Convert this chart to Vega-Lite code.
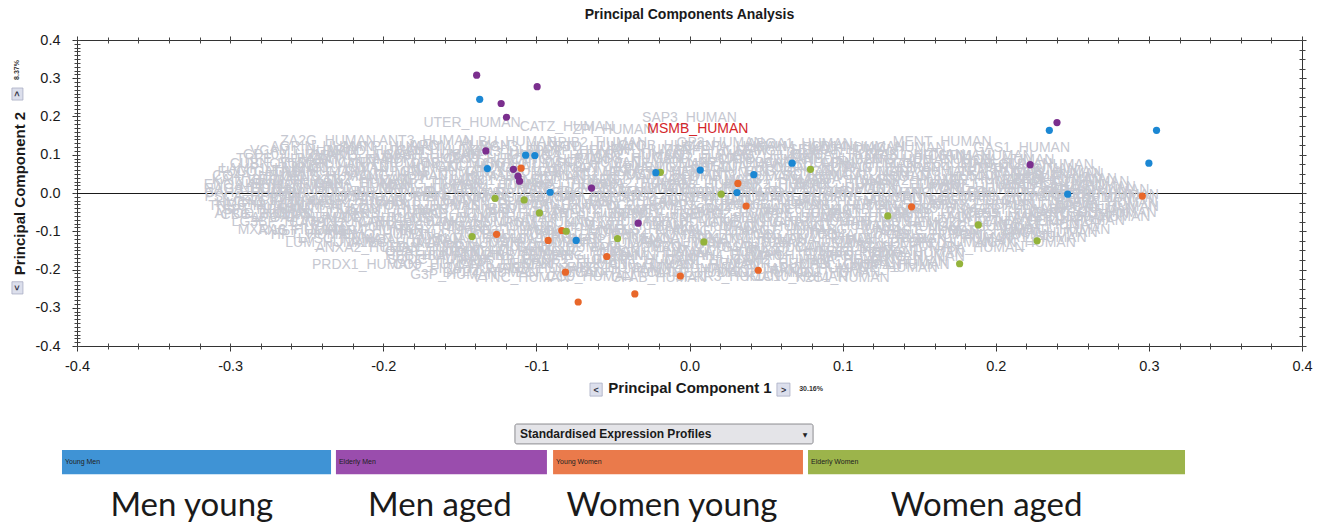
{
 "$schema": "https://vega.github.io/schema/vega-lite/v6.json",
 "width": 1225, "height": 306,
 "autosize": {"type": "none"},
 "padding": {"left": 77, "top": 40, "right": 28, "bottom": 178},
 "background": "white",
 "config": {"view": {"stroke": null}, "axis": {"grid": false}},
 "title": {"text": "Principal Components Analysis", "font": "Liberation Sans", "fontSize": 14, "fontWeight": "bold", "color": "#1a1a1a", "anchor": "middle", "offset": 10},
 "resolve": {"axis": {"x": "independent", "y": "independent"}},
 "layer": [
  {
   "data": {"values": [{"x1": -0.4, "x2": 0.4, "y": 0}]},
   "mark": {"type": "rule", "color": "#1a1a1a", "strokeWidth": 1, "yOffset": 0.5},
   "encoding": {
    "x": {"field": "x1", "type": "quantitative", "scale": {"domain": [-0.4, 0.4], "nice": false, "zero": false},
     "axis": {"orient": "bottom", "values": [-0.4, -0.3, -0.2, -0.1, 0, 0.1, 0.2, 0.3, 0.4], "labelExpr": "replace(format(datum.value, '.1f'), '\u2212', '-')", "labelFlush": false, "labelOverlap": false, "labelFont": "Liberation Sans", "labelFontSize": 14.5, "labelColor": "#1a1a1a", "labelPadding": 8, "tickSize": 5, "tickColor": "#333", "domain": true, "domainColor": "#333", "title": "Principal Component 1", "titleFont": "Liberation Sans", "titleFontSize": 15, "titleFontWeight": "bold", "titleColor": "#1a1a1a", "titlePadding": 8}},
    "x2": {"field": "x2"},
    "y": {"field": "y", "type": "quantitative", "scale": {"domain": [-0.4, 0.4], "nice": false, "zero": false},
     "axis": {"orient": "left", "values": [-0.4, -0.3, -0.2, -0.1, 0, 0.1, 0.2, 0.3, 0.4], "labelExpr": "replace(format(datum.value, '.1f'), '\u2212', '-')", "labelFlush": false, "labelOverlap": false, "labelFont": "Liberation Sans", "labelFontSize": 14.5, "labelColor": "#1a1a1a", "labelPadding": 12, "tickSize": 5, "tickColor": "#333", "domain": true, "domainColor": "#333", "title": "Principal Component 2", "titleFont": "Liberation Sans", "titleFontSize": 15, "titleFontWeight": "bold", "titleColor": "#1a1a1a", "titlePadding": 8}}
   }
  },
  {
   "data": {"values": [
    {"x": -0.24, "y": 0.121, "t": "AGRIN_HUMAN"}, {"x": -0.195, "y": 0.121, "t": "AMYP_HUMAN"}, {"x": -0.15, "y": 0.122, "t": "APOM_HUMAN"}, {"x": -0.105, "y": 0.12, "t": "BGH3_HUMAN"}, {"x": -0.06, "y": 0.121, "t": "BTD_HUMAN"}, {"x": -0.015, "y": 0.122, "t": "C1QB_HUMAN"}, {"x": 0.03, "y": 0.12, "t": "C4BPA_HUMAN"}, {"x": 0.075, "y": 0.121, "t": "CALM_HUMAN"}, {"x": 0.11, "y": 0.12, "t": "CD14_HUMAN"},
    {"x": -0.258, "y": 0.099, "t": "CD109_HUMAN"}, {"x": -0.213, "y": 0.098, "t": "CEAM5_HUMAN"}, {"x": -0.168, "y": 0.1, "t": "CFAH_HUMAN"}, {"x": -0.123, "y": 0.099, "t": "CHIT1_HUMAN"}, {"x": -0.078, "y": 0.098, "t": "CMGA_HUMAN"}, {"x": -0.033, "y": 0.1, "t": "CO2_HUMAN"}, {"x": 0.012, "y": 0.099, "t": "CO5_HUMAN"}, {"x": 0.057, "y": 0.098, "t": "CO7_HUMAN"}, {"x": 0.102, "y": 0.1, "t": "COCA1_HUMAN"}, {"x": 0.147, "y": 0.099, "t": "CRIS1_HUMAN"}, {"x": 0.19, "y": 0.098, "t": "CSTN1_HUMAN"},
    {"x": -0.268, "y": 0.077, "t": "CUBN_HUMAN"}, {"x": -0.243, "y": 0.076, "t": "CYTB_HUMAN"}, {"x": -0.198, "y": 0.078, "t": "CYTN_HUMAN"}, {"x": -0.153, "y": 0.077, "t": "DCD_HUMAN"}, {"x": -0.108, "y": 0.076, "t": "DSG1_HUMAN"}, {"x": -0.063, "y": 0.078, "t": "DSC3_HUMAN"}, {"x": -0.018, "y": 0.077, "t": "ELNE_HUMAN"}, {"x": 0.027, "y": 0.076, "t": "ENPP3_HUMAN"}, {"x": 0.072, "y": 0.078, "t": "EPCAM_HUMAN"}, {"x": 0.117, "y": 0.077, "t": "FBN1_HUMAN"}, {"x": 0.162, "y": 0.076, "t": "FCGBP_HUMAN"}, {"x": 0.207, "y": 0.077, "t": "FINC_HUMAN"}, {"x": 0.23, "y": 0.074, "t": "FOLR1_HUMAN"},
    {"x": -0.276, "y": 0.055, "t": "FUCO_HUMAN"}, {"x": -0.25, "y": 0.054, "t": "GALNS_HUMAN"}, {"x": -0.205, "y": 0.056, "t": "GLCM_HUMAN"}, {"x": -0.16, "y": 0.055, "t": "GNS_HUMAN"}, {"x": -0.115, "y": 0.054, "t": "GPX3_HUMAN"}, {"x": -0.07, "y": 0.056, "t": "GRN_HUMAN"}, {"x": -0.025, "y": 0.055, "t": "HEXA_HUMAN"}, {"x": 0.02, "y": 0.054, "t": "HEXB_HUMAN"}, {"x": 0.065, "y": 0.056, "t": "HRG_HUMAN"}, {"x": 0.11, "y": 0.055, "t": "ICAM1_HUMAN"}, {"x": 0.155, "y": 0.054, "t": "IGF2_HUMAN"}, {"x": 0.2, "y": 0.056, "t": "IL1RA_HUMAN"}, {"x": 0.24, "y": 0.05, "t": "ITIH2_HUMAN"},
    {"x": -0.282, "y": 0.033, "t": "KAIN_HUMAN"}, {"x": -0.258, "y": 0.032, "t": "KLK1_HUMAN"}, {"x": -0.213, "y": 0.034, "t": "KLK2_HUMAN"}, {"x": -0.168, "y": 0.033, "t": "LAMB1_HUMAN"}, {"x": -0.123, "y": 0.032, "t": "LAMC1_HUMAN"}, {"x": -0.078, "y": 0.034, "t": "LEG1_HUMAN"}, {"x": -0.033, "y": 0.033, "t": "LRG1_HUMAN"}, {"x": 0.012, "y": 0.032, "t": "LYAM1_HUMAN"}, {"x": 0.057, "y": 0.034, "t": "MA2B1_HUMAN"}, {"x": 0.102, "y": 0.033, "t": "MANBA_HUMAN"}, {"x": 0.147, "y": 0.032, "t": "MASP2_HUMAN"}, {"x": 0.192, "y": 0.034, "t": "MIF_HUMAN"}, {"x": 0.237, "y": 0.033, "t": "MMP9_HUMAN"}, {"x": 0.255, "y": 0.028, "t": "MUC1_HUMAN"},
    {"x": -0.285, "y": 0.011, "t": "NAGA_HUMAN"}, {"x": -0.262, "y": 0.01, "t": "NEO1_HUMAN"}, {"x": -0.217, "y": 0.012, "t": "NHRF1_HUMAN"}, {"x": -0.172, "y": 0.011, "t": "NRP1_HUMAN"}, {"x": -0.127, "y": 0.01, "t": "OLFM4_HUMAN"}, {"x": -0.082, "y": 0.012, "t": "PAEP_HUMAN"}, {"x": -0.037, "y": 0.011, "t": "PCSK1_HUMAN"}, {"x": 0.008, "y": 0.01, "t": "PDGFB_HUMAN"}, {"x": 0.053, "y": 0.012, "t": "PGS1_HUMAN"}, {"x": 0.098, "y": 0.011, "t": "PLTP_HUMAN"}, {"x": 0.143, "y": 0.01, "t": "PODXL_HUMAN"}, {"x": 0.188, "y": 0.012, "t": "PON1_HUMAN"}, {"x": 0.233, "y": 0.011, "t": "PPBP_HUMAN"}, {"x": 0.268, "y": 0.008, "t": "PROS_HUMAN"},
    {"x": -0.285, "y": -0.011, "t": "PSCA_HUMAN"}, {"x": -0.24, "y": -0.012, "t": "PTPRS_HUMAN"}, {"x": -0.195, "y": -0.01, "t": "QSOX1_HUMAN"}, {"x": -0.15, "y": -0.011, "t": "RET4_HUMAN"}, {"x": -0.105, "y": -0.012, "t": "RNAS2_HUMAN"}, {"x": -0.06, "y": -0.01, "t": "SAP_HUMAN"}, {"x": -0.015, "y": -0.011, "t": "SCG2_HUMAN"}, {"x": 0.03, "y": -0.012, "t": "SEM4D_HUMAN"}, {"x": 0.075, "y": -0.01, "t": "SLIT2_HUMAN"}, {"x": 0.12, "y": -0.011, "t": "SPRC_HUMAN"}, {"x": 0.165, "y": -0.012, "t": "SRGN_HUMAN"}, {"x": 0.21, "y": -0.01, "t": "TFF3_HUMAN"}, {"x": 0.255, "y": -0.011, "t": "TGFB1_HUMAN"}, {"x": 0.272, "y": -0.014, "t": "THRB_HUMAN"},
    {"x": -0.283, "y": -0.033, "t": "TNR6_HUMAN"}, {"x": -0.258, "y": -0.034, "t": "TRY1_HUMAN"}, {"x": -0.213, "y": -0.032, "t": "TSP4_HUMAN"}, {"x": -0.168, "y": -0.033, "t": "UPAR_HUMAN"}, {"x": -0.123, "y": -0.034, "t": "VASN_HUMAN"}, {"x": -0.078, "y": -0.032, "t": "VCAN_HUMAN"}, {"x": -0.033, "y": -0.033, "t": "WFDC2_HUMAN"}, {"x": 0.012, "y": -0.034, "t": "XPP2_HUMAN"}, {"x": 0.057, "y": -0.032, "t": "ZG16B_HUMAN"}, {"x": 0.102, "y": -0.033, "t": "PLXB2_HUMAN"}, {"x": 0.147, "y": -0.034, "t": "TGM4_HUMAN"}, {"x": 0.192, "y": -0.032, "t": "NPTX2_HUMAN"}, {"x": 0.237, "y": -0.033, "t": "ALBU_HUMAN"}, {"x": 0.272, "y": -0.036, "t": "APOA1_HUMAN"},
    {"x": -0.278, "y": -0.055, "t": "APOD_HUMAN"}, {"x": -0.24, "y": -0.056, "t": "CLUS_HUMAN"}, {"x": -0.195, "y": -0.054, "t": "KLK3_HUMAN"}, {"x": -0.15, "y": -0.055, "t": "PPAP_HUMAN"}, {"x": -0.105, "y": -0.056, "t": "PIP_HUMAN"}, {"x": -0.06, "y": -0.054, "t": "TRFL_HUMAN"}, {"x": -0.015, "y": -0.055, "t": "SEMG1_HUMAN"}, {"x": 0.03, "y": -0.056, "t": "SEMG2_HUMAN"}, {"x": 0.075, "y": -0.054, "t": "TRFE_HUMAN"}, {"x": 0.12, "y": -0.055, "t": "A1AT_HUMAN"}, {"x": 0.165, "y": -0.056, "t": "AMBP_HUMAN"}, {"x": 0.21, "y": -0.054, "t": "CD59_HUMAN"}, {"x": 0.255, "y": -0.055, "t": "CYTC_HUMAN"}, {"x": 0.27, "y": -0.052, "t": "PTGDS_HUMAN"},
    {"x": -0.265, "y": -0.077, "t": "LG3BP_HUMAN"}, {"x": -0.23, "y": -0.078, "t": "CATD_HUMAN"}, {"x": -0.185, "y": -0.076, "t": "CATB_HUMAN"}, {"x": -0.14, "y": -0.077, "t": "B2MG_HUMAN"}, {"x": -0.095, "y": -0.078, "t": "UROM_HUMAN"}, {"x": -0.05, "y": -0.076, "t": "KNG1_HUMAN"}, {"x": -0.005, "y": -0.077, "t": "VTDB_HUMAN"}, {"x": 0.04, "y": -0.078, "t": "IGKC_HUMAN"}, {"x": 0.085, "y": -0.076, "t": "IGHA1_HUMAN"}, {"x": 0.13, "y": -0.077, "t": "HPT_HUMAN"}, {"x": 0.175, "y": -0.078, "t": "HEMO_HUMAN"}, {"x": 0.22, "y": -0.076, "t": "FETUA_HUMAN"}, {"x": 0.252, "y": -0.074, "t": "CERU_HUMAN"},
    {"x": -0.25, "y": -0.099, "t": "ANGT_HUMAN"}, {"x": -0.205, "y": -0.1, "t": "RBP4_HUMAN"}, {"x": -0.16, "y": -0.098, "t": "TTHY_HUMAN"}, {"x": -0.115, "y": -0.099, "t": "CO3_HUMAN"}, {"x": -0.07, "y": -0.1, "t": "CO4A_HUMAN"}, {"x": -0.025, "y": -0.098, "t": "GELS_HUMAN"}, {"x": 0.02, "y": -0.099, "t": "A2MG_HUMAN"}, {"x": 0.065, "y": -0.1, "t": "AACT_HUMAN"}, {"x": 0.11, "y": -0.098, "t": "A1BG_HUMAN"}, {"x": 0.155, "y": -0.099, "t": "A1AG1_HUMAN"}, {"x": 0.2, "y": -0.1, "t": "OSTP_HUMAN"}, {"x": 0.24, "y": -0.096, "t": "DMBT1_HUMAN"},
    {"x": -0.225, "y": -0.121, "t": "LYSC_HUMAN"}, {"x": -0.18, "y": -0.122, "t": "NGAL_HUMAN"}, {"x": -0.135, "y": -0.12, "t": "S10A8_HUMAN"}, {"x": -0.09, "y": -0.121, "t": "S10A9_HUMAN"}, {"x": -0.045, "y": -0.122, "t": "PEBP1_HUMAN"}, {"x": 0.0, "y": -0.12, "t": "ENOA_HUMAN"}, {"x": 0.045, "y": -0.121, "t": "KPYM_HUMAN"}, {"x": 0.09, "y": -0.122, "t": "LDHA_HUMAN"}, {"x": 0.135, "y": -0.12, "t": "MDHC_HUMAN"}, {"x": 0.18, "y": -0.121, "t": "PGK1_HUMAN"}, {"x": 0.225, "y": -0.118, "t": "ANXA1_HUMAN"},
    {"x": -0.21, "y": -0.143, "t": "ANXA2_HUMAN"}, {"x": -0.17, "y": -0.144, "t": "LEG3_HUMAN"}, {"x": -0.125, "y": -0.142, "t": "PRDX2_HUMAN"}, {"x": -0.08, "y": -0.143, "t": "SODC_HUMAN"}, {"x": -0.035, "y": -0.144, "t": "PPIA_HUMAN"}, {"x": 0.01, "y": -0.142, "t": "PROF1_HUMAN"}, {"x": 0.055, "y": -0.143, "t": "GSTP1_HUMAN"}, {"x": 0.1, "y": -0.144, "t": "CAH1_HUMAN"}, {"x": 0.145, "y": -0.142, "t": "CAH2_HUMAN"}, {"x": 0.19, "y": -0.143, "t": "HBA_HUMAN"},
    {"x": -0.17, "y": -0.165, "t": "HBB_HUMAN"}, {"x": -0.15, "y": -0.166, "t": "FIBA_HUMAN"}, {"x": -0.105, "y": -0.164, "t": "FIBB_HUMAN"}, {"x": -0.06, "y": -0.165, "t": "FIBG_HUMAN"}, {"x": -0.015, "y": -0.166, "t": "PLMN_HUMAN"}, {"x": 0.03, "y": -0.164, "t": "ITIH4_HUMAN"}, {"x": 0.075, "y": -0.165, "t": "APOH_HUMAN"}, {"x": 0.12, "y": -0.166, "t": "APOE_HUMAN"}, {"x": 0.148, "y": -0.168, "t": "VTNC_HUMAN"},
    {"x": -0.165, "y": -0.187, "t": "CO9_HUMAN"}, {"x": -0.12, "y": -0.188, "t": "CFAB_HUMAN"}, {"x": -0.075, "y": -0.186, "t": "SPRR3_HUMAN"}, {"x": -0.03, "y": -0.187, "t": "K1C10_HUMAN"}, {"x": 0.015, "y": -0.188, "t": "K2C1_HUMAN"}, {"x": 0.06, "y": -0.186, "t": "CALR_HUMAN"}, {"x": 0.105, "y": -0.187, "t": "CH3L1_HUMAN"}, {"x": 0.135, "y": -0.189, "t": "CNDP1_HUMAN"},
    {"x": -0.13, "y": -0.209, "t": "DPP4_HUMAN"}, {"x": -0.085, "y": -0.21, "t": "EGF_HUMAN"}, {"x": -0.04, "y": -0.208, "t": "CADH1_HUMAN"}, {"x": 0.005, "y": -0.209, "t": "CATL1_HUMAN"}, {"x": 0.05, "y": -0.21, "t": "DAG1_HUMAN"}, {"x": 0.095, "y": -0.208, "t": "NID1_HUMAN"},
    {"x": -0.236, "y": 0.136, "t": "ZA2G_HUMAN"}, {"x": -0.172, "y": 0.137, "t": "ANT3_HUMAN"}, {"x": -0.118, "y": 0.133, "t": "ALBU_HUMAN"}, {"x": -0.06, "y": 0.131, "t": "BPIB2_HUMAN"}, {"x": 0.02, "y": 0.131, "t": "GP2_HUMAN"}, {"x": 0.072, "y": 0.128, "t": "APOA1_HUMAN"}, {"x": 0.165, "y": 0.133, "t": "MENT_HUMAN"}, {"x": -0.142, "y": 0.183, "t": "UTER_HUMAN"}, {"x": -0.08, "y": 0.172, "t": "CATZ_HUMAN"}, {"x": -0.05, "y": 0.166, "t": "ZPI_HUMAN"}, {"x": 0.0, "y": 0.196, "t": "SAP3_HUMAN"},
    {"x": -0.252, "y": 0.11, "t": "VCAM1_HUMAN"}, {"x": -0.205, "y": 0.109, "t": "APOD_HUMAN"}, {"x": -0.16, "y": 0.111, "t": "CLUS_HUMAN"}, {"x": -0.115, "y": 0.108, "t": "KLK3_HUMAN"}, {"x": -0.07, "y": 0.11, "t": "PPAP_HUMAN"}, {"x": -0.025, "y": 0.112, "t": "PIP_HUMAN"}, {"x": 0.02, "y": 0.109, "t": "TRFL_HUMAN"}, {"x": 0.065, "y": 0.11, "t": "SEMG1_HUMAN"}, {"x": 0.1, "y": 0.112, "t": "SEMG2_HUMAN"}, {"x": 0.137, "y": 0.117, "t": "DIAC_HUMAN"}, {"x": 0.217, "y": 0.117, "t": "GAS1_HUMAN"},
    {"x": -0.265, "y": 0.088, "t": "TRFE_HUMAN"}, {"x": -0.22, "y": 0.087, "t": "A1AT_HUMAN"}, {"x": -0.175, "y": 0.089, "t": "AMBP_HUMAN"}, {"x": -0.13, "y": 0.088, "t": "CD59_HUMAN"}, {"x": -0.085, "y": 0.086, "t": "CYTC_HUMAN"}, {"x": -0.04, "y": 0.088, "t": "PTGDS_HUMAN"}, {"x": 0.005, "y": 0.09, "t": "LG3BP_HUMAN"}, {"x": 0.05, "y": 0.087, "t": "CATD_HUMAN"}, {"x": 0.095, "y": 0.088, "t": "CATB_HUMAN"}, {"x": 0.14, "y": 0.086, "t": "B2MG_HUMAN"}, {"x": 0.168, "y": 0.097, "t": "DAF_HUMAN"}, {"x": 0.205, "y": 0.085, "t": "UROM_HUMAN"},
    {"x": -0.272, "y": 0.062, "t": "LAMP1_HUMAN"}, {"x": -0.228, "y": 0.066, "t": "KNG1_HUMAN"}, {"x": -0.183, "y": 0.065, "t": "VTDB_HUMAN"}, {"x": -0.138, "y": 0.067, "t": "IGKC_HUMAN"}, {"x": -0.093, "y": 0.066, "t": "IGHA1_HUMAN"}, {"x": -0.048, "y": 0.064, "t": "HPT_HUMAN"}, {"x": -0.003, "y": 0.066, "t": "HEMO_HUMAN"}, {"x": 0.042, "y": 0.068, "t": "FETUA_HUMAN"}, {"x": 0.087, "y": 0.066, "t": "CERU_HUMAN"}, {"x": 0.132, "y": 0.065, "t": "ANGT_HUMAN"}, {"x": 0.177, "y": 0.066, "t": "RBP4_HUMAN"}, {"x": 0.222, "y": 0.064, "t": "TTHY_HUMAN"}, {"x": 0.24, "y": 0.055, "t": "CO3_HUMAN"},
    {"x": -0.28, "y": 0.044, "t": "CO4A_HUMAN"}, {"x": -0.235, "y": 0.043, "t": "GELS_HUMAN"}, {"x": -0.19, "y": 0.045, "t": "A2MG_HUMAN"}, {"x": -0.145, "y": 0.044, "t": "AACT_HUMAN"}, {"x": -0.1, "y": 0.042, "t": "A1BG_HUMAN"}, {"x": -0.055, "y": 0.044, "t": "A1AG1_HUMAN"}, {"x": -0.01, "y": 0.046, "t": "OSTP_HUMAN"}, {"x": 0.035, "y": 0.043, "t": "DMBT1_HUMAN"}, {"x": 0.08, "y": 0.044, "t": "LYSC_HUMAN"}, {"x": 0.125, "y": 0.045, "t": "NGAL_HUMAN"}, {"x": 0.17, "y": 0.043, "t": "S10A8_HUMAN"}, {"x": 0.215, "y": 0.044, "t": "S10A9_HUMAN"}, {"x": 0.245, "y": 0.036, "t": "PEBP1_HUMAN"},
    {"x": -0.285, "y": 0.022, "t": "ENOA_HUMAN"}, {"x": -0.258, "y": 0.021, "t": "KPYM_HUMAN"}, {"x": -0.213, "y": 0.023, "t": "LDHA_HUMAN"}, {"x": -0.168, "y": 0.022, "t": "MDHC_HUMAN"}, {"x": -0.123, "y": 0.02, "t": "PGK1_HUMAN"}, {"x": -0.078, "y": 0.022, "t": "ANXA1_HUMAN"}, {"x": -0.033, "y": 0.024, "t": "ANXA2_HUMAN"}, {"x": 0.012, "y": 0.021, "t": "LEG3_HUMAN"}, {"x": 0.057, "y": 0.022, "t": "PRDX2_HUMAN"}, {"x": 0.102, "y": 0.023, "t": "SODC_HUMAN"}, {"x": 0.147, "y": 0.021, "t": "PPIA_HUMAN"}, {"x": 0.192, "y": 0.022, "t": "PROF1_HUMAN"}, {"x": 0.237, "y": 0.02, "t": "GSTP1_HUMAN"}, {"x": 0.26, "y": 0.016, "t": "CAH1_HUMAN"},
    {"x": -0.285, "y": 0.0, "t": "CAH2_HUMAN"}, {"x": -0.24, "y": -0.001, "t": "HBA_HUMAN"}, {"x": -0.195, "y": 0.001, "t": "HBB_HUMAN"}, {"x": -0.15, "y": 0.0, "t": "FIBA_HUMAN"}, {"x": -0.105, "y": -0.002, "t": "FIBB_HUMAN"}, {"x": -0.06, "y": 0.0, "t": "FIBG_HUMAN"}, {"x": -0.015, "y": 0.002, "t": "PLMN_HUMAN"}, {"x": 0.03, "y": -0.001, "t": "ITIH4_HUMAN"}, {"x": 0.075, "y": 0.0, "t": "APOH_HUMAN"}, {"x": 0.12, "y": 0.001, "t": "APOE_HUMAN"}, {"x": 0.165, "y": -0.001, "t": "VTNC_HUMAN"}, {"x": 0.21, "y": 0.0, "t": "CO9_HUMAN"}, {"x": 0.255, "y": 0.002, "t": "CFAB_HUMAN"}, {"x": 0.272, "y": -0.004, "t": "SPRR3_HUMAN"},
    {"x": -0.274, "y": -0.026, "t": "HMCN1_HUMAN"}, {"x": -0.262, "y": -0.021, "t": "K2C1_HUMAN"}, {"x": -0.217, "y": -0.022, "t": "CALR_HUMAN"}, {"x": -0.172, "y": -0.023, "t": "CH3L1_HUMAN"}, {"x": -0.127, "y": -0.021, "t": "CNDP1_HUMAN"}, {"x": -0.082, "y": -0.022, "t": "DPP4_HUMAN"}, {"x": -0.037, "y": -0.024, "t": "EGF_HUMAN"}, {"x": 0.008, "y": -0.021, "t": "CADH1_HUMAN"}, {"x": 0.053, "y": -0.022, "t": "CATL1_HUMAN"}, {"x": 0.098, "y": -0.023, "t": "DAG1_HUMAN"}, {"x": 0.143, "y": -0.021, "t": "NID1_HUMAN"}, {"x": 0.188, "y": -0.022, "t": "PGCB_HUMAN"}, {"x": 0.233, "y": -0.02, "t": "GGH_HUMAN"}, {"x": 0.272, "y": -0.026, "t": "HS90A_HUMAN"},
    {"x": -0.28, "y": -0.044, "t": "TSP1_HUMAN"}, {"x": -0.235, "y": -0.043, "t": "FBLN1_HUMAN"}, {"x": -0.19, "y": -0.045, "t": "ECM1_HUMAN"}, {"x": -0.145, "y": -0.044, "t": "NPC2_HUMAN"}, {"x": -0.1, "y": -0.042, "t": "PEDF_HUMAN"}, {"x": -0.055, "y": -0.044, "t": "SPON2_HUMAN"}, {"x": -0.01, "y": -0.046, "t": "TIMP1_HUMAN"}, {"x": 0.035, "y": -0.043, "t": "CD44_HUMAN"}, {"x": 0.08, "y": -0.044, "t": "MUC6_HUMAN"}, {"x": 0.125, "y": -0.045, "t": "ACTB_HUMAN"}, {"x": 0.17, "y": -0.043, "t": "TBB5_HUMAN"}, {"x": 0.215, "y": -0.044, "t": "EZRI_HUMAN"}, {"x": 0.26, "y": -0.042, "t": "ALBU_HUMAN"},
    {"x": -0.277, "y": -0.057, "t": "CBG_HUMAN"}, {"x": -0.252, "y": -0.066, "t": "APOA1_HUMAN"}, {"x": -0.207, "y": -0.065, "t": "APOD_HUMAN"}, {"x": -0.162, "y": -0.067, "t": "CLUS_HUMAN"}, {"x": -0.117, "y": -0.066, "t": "KLK3_HUMAN"}, {"x": -0.072, "y": -0.064, "t": "PPAP_HUMAN"}, {"x": -0.027, "y": -0.066, "t": "PIP_HUMAN"}, {"x": 0.018, "y": -0.068, "t": "TRFL_HUMAN"}, {"x": 0.063, "y": -0.066, "t": "SEMG1_HUMAN"}, {"x": 0.108, "y": -0.065, "t": "SEMG2_HUMAN"}, {"x": 0.153, "y": -0.066, "t": "TRFE_HUMAN"}, {"x": 0.198, "y": -0.064, "t": "A1AT_HUMAN"}, {"x": 0.243, "y": -0.066, "t": "AMBP_HUMAN"}, {"x": 0.27, "y": -0.062, "t": "CD59_HUMAN"},
    {"x": -0.26, "y": -0.097, "t": "MXRA8_HUMAN"}, {"x": -0.215, "y": -0.088, "t": "CYTC_HUMAN"}, {"x": -0.17, "y": -0.087, "t": "PTGDS_HUMAN"}, {"x": -0.125, "y": -0.089, "t": "LG3BP_HUMAN"}, {"x": -0.08, "y": -0.088, "t": "CATD_HUMAN"}, {"x": -0.035, "y": -0.086, "t": "CATB_HUMAN"}, {"x": 0.01, "y": -0.088, "t": "B2MG_HUMAN"}, {"x": 0.055, "y": -0.09, "t": "UROM_HUMAN"}, {"x": 0.1, "y": -0.087, "t": "KNG1_HUMAN"}, {"x": 0.145, "y": -0.088, "t": "VTDB_HUMAN"}, {"x": 0.19, "y": -0.089, "t": "IGKC_HUMAN"}, {"x": 0.235, "y": -0.084, "t": "IGHA1_HUMAN"},
    {"x": -0.245, "y": -0.11, "t": "HPT_HUMAN"}, {"x": -0.2, "y": -0.109, "t": "HEMO_HUMAN"}, {"x": -0.155, "y": -0.111, "t": "FETUA_HUMAN"}, {"x": -0.11, "y": -0.11, "t": "CERU_HUMAN"}, {"x": -0.065, "y": -0.108, "t": "ANGT_HUMAN"}, {"x": -0.02, "y": -0.11, "t": "RBP4_HUMAN"}, {"x": 0.025, "y": -0.112, "t": "TTHY_HUMAN"}, {"x": 0.07, "y": -0.109, "t": "CO3_HUMAN"}, {"x": 0.115, "y": -0.11, "t": "CO4A_HUMAN"}, {"x": 0.16, "y": -0.111, "t": "GELS_HUMAN"}, {"x": 0.205, "y": -0.109, "t": "A2MG_HUMAN"}, {"x": 0.235, "y": -0.105, "t": "AACT_HUMAN"},
    {"x": -0.235, "y": -0.131, "t": "LUM_HUMAN"}, {"x": -0.19, "y": -0.132, "t": "A1BG_HUMAN"}, {"x": -0.145, "y": -0.133, "t": "A1AG1_HUMAN"}, {"x": -0.1, "y": -0.131, "t": "OSTP_HUMAN"}, {"x": -0.055, "y": -0.132, "t": "DMBT1_HUMAN"}, {"x": -0.01, "y": -0.134, "t": "LYSC_HUMAN"}, {"x": 0.035, "y": -0.131, "t": "NGAL_HUMAN"}, {"x": 0.08, "y": -0.132, "t": "S10A8_HUMAN"}, {"x": 0.125, "y": -0.133, "t": "S10A9_HUMAN"}, {"x": 0.165, "y": -0.131, "t": "PEBP1_HUMAN"}, {"x": 0.22, "y": -0.13, "t": "NCAN_HUMAN"},
    {"x": -0.168, "y": -0.154, "t": "OPAT_HUMAN"}, {"x": -0.13, "y": -0.155, "t": "KPYM_HUMAN"}, {"x": -0.11, "y": -0.153, "t": "LDHA_HUMAN"}, {"x": -0.065, "y": -0.154, "t": "MDHC_HUMAN"}, {"x": -0.02, "y": -0.156, "t": "PGK1_HUMAN"}, {"x": 0.025, "y": -0.154, "t": "ANXA1_HUMAN"}, {"x": 0.07, "y": -0.153, "t": "ANXA2_HUMAN"}, {"x": 0.115, "y": -0.155, "t": "LEG3_HUMAN"}, {"x": 0.145, "y": -0.158, "t": "PRDX2_HUMAN"},
    {"x": -0.212, "y": -0.188, "t": "PRDX1_HUMAN"}, {"x": -0.165, "y": -0.176, "t": "SODC_HUMAN"}, {"x": -0.12, "y": -0.177, "t": "PPIA_HUMAN"}, {"x": -0.075, "y": -0.175, "t": "PROF1_HUMAN"}, {"x": -0.03, "y": -0.176, "t": "GSTP1_HUMAN"}, {"x": 0.015, "y": -0.178, "t": "CAH1_HUMAN"}, {"x": 0.06, "y": -0.176, "t": "CAH2_HUMAN"}, {"x": 0.105, "y": -0.175, "t": "HBA_HUMAN"}, {"x": 0.14, "y": -0.18, "t": "HBB_HUMAN"},
    {"x": -0.14, "y": -0.198, "t": "FIBA_HUMAN"}, {"x": -0.095, "y": -0.199, "t": "FIBB_HUMAN"}, {"x": -0.05, "y": -0.197, "t": "FIBG_HUMAN"}, {"x": -0.005, "y": -0.198, "t": "PLMN_HUMAN"}, {"x": 0.04, "y": -0.2, "t": "ITIH4_HUMAN"}, {"x": 0.085, "y": -0.198, "t": "APOH_HUMAN"}, {"x": 0.13, "y": -0.196, "t": "APOE_HUMAN"},
    {"x": -0.154, "y": -0.215, "t": "G3P_HUMAN"}, {"x": -0.11, "y": -0.221, "t": "VTNC_HUMAN"}, {"x": -0.065, "y": -0.22, "t": "CO9_HUMAN"}, {"x": -0.02, "y": -0.222, "t": "CFAB_HUMAN"}, {"x": 0.025, "y": -0.22, "t": "SPRR3_HUMAN"}, {"x": 0.07, "y": -0.219, "t": "K1C10_HUMAN"}, {"x": 0.1, "y": -0.221, "t": "K2C1_HUMAN"}
   ]},
   "mark": {"type": "text", "font": "Liberation Sans", "fontSize": 14, "color": "#c6c8d1", "align": "center", "baseline": "middle"},
   "encoding": {
    "x": {"field": "x", "type": "quantitative", "scale": {"domain": [-0.4, 0.4], "nice": false, "zero": false},
     "axis": {"orient": "bottom", "values": [-0.4, -0.38, -0.36, -0.34, -0.32, -0.3, -0.28, -0.26, -0.24, -0.22, -0.2, -0.18, -0.16, -0.14, -0.12, -0.1, -0.08, -0.06, -0.04, -0.02, 0, 0.02, 0.04, 0.06, 0.08, 0.1, 0.12, 0.14, 0.16, 0.18, 0.2, 0.22, 0.24, 0.26, 0.28, 0.3, 0.32, 0.34, 0.36, 0.38, 0.4], "labels": false, "domain": false, "tickSize": 6, "offset": -3, "tickColor": "#444", "title": null}},
    "y": {"field": "y", "type": "quantitative", "scale": {"domain": [-0.4, 0.4], "nice": false, "zero": false},
     "axis": {"orient": "left", "values": [-0.4, -0.39, -0.38, -0.37, -0.36, -0.35, -0.34, -0.33, -0.32, -0.31, -0.3, -0.29, -0.28, -0.27, -0.26, -0.25, -0.24, -0.23, -0.22, -0.21, -0.2, -0.19, -0.18, -0.17, -0.16, -0.15, -0.14, -0.13, -0.12, -0.11, -0.1, -0.09, -0.08, -0.07, -0.06, -0.05, -0.04, -0.03, -0.02, -0.01, 0, 0.01, 0.02, 0.03, 0.04, 0.05, 0.06, 0.07, 0.08, 0.09, 0.1, 0.11, 0.12, 0.13, 0.14, 0.15, 0.16, 0.17, 0.18, 0.19, 0.2, 0.21, 0.22, 0.23, 0.24, 0.25, 0.26, 0.27, 0.28, 0.29, 0.3, 0.31, 0.32, 0.33, 0.34, 0.35, 0.36, 0.37, 0.38, 0.39, 0.4], "labels": false, "domain": false, "tickSize": 6, "offset": -3, "tickColor": "#444", "title": null}},
    "text": {"field": "t"}
   }
  },
  {
   "data": {"values": [{"x": 0.0055, "y": 0.167, "t": "MSMB_HUMAN"}]},
   "mark": {"type": "text", "font": "Liberation Sans", "fontSize": 14, "color": "#d3262b", "align": "center", "baseline": "middle"},
   "encoding": {
    "x": {"field": "x", "type": "quantitative", "scale": {"domain": [-0.4, 0.4], "nice": false, "zero": false},
     "axis": {"orient": "top", "values": [-0.4, -0.3, -0.2, -0.1, 0, 0.1, 0.2, 0.3, 0.4], "labels": false, "domain": true, "domainColor": "#333", "tickSize": 4, "tickColor": "#333", "title": null}},
    "y": {"field": "y", "type": "quantitative", "scale": {"domain": [-0.4, 0.4], "nice": false, "zero": false},
     "axis": {"orient": "right", "values": [-0.4, -0.3, -0.2, -0.1, 0, 0.1, 0.2, 0.3, 0.4], "labels": false, "domain": true, "domainColor": "#333", "tickSize": 4, "tickColor": "#333", "title": null}},
    "text": {"field": "t"}
   }
  },
  {
   "data": {"values": [
    {"g": "Young Women", "x": -0.11, "y": 0.065}, {"g": "Young Women", "x": 0.0316, "y": 0.025}, {"g": "Young Women", "x": 0.037, "y": -0.034}, {"g": "Young Women", "x": -0.126, "y": -0.108}, {"g": "Young Women", "x": -0.0834, "y": -0.098}, {"g": "Young Women", "x": -0.0923, "y": -0.124}, {"g": "Young Women", "x": -0.054, "y": -0.166}, {"g": "Young Women", "x": -0.081, "y": -0.207}, {"g": "Young Women", "x": -0.006, "y": -0.217}, {"g": "Young Women", "x": 0.0449, "y": -0.202}, {"g": "Young Women", "x": -0.0357, "y": -0.264}, {"g": "Young Women", "x": -0.0727, "y": -0.285}, {"g": "Young Women", "x": 0.2957, "y": -0.008}, {"g": "Young Women", "x": 0.145, "y": -0.036},
    {"g": "Elderly Women", "x": -0.019, "y": 0.054}, {"g": "Elderly Women", "x": 0.079, "y": 0.062}, {"g": "Elderly Women", "x": 0.0207, "y": -0.003}, {"g": "Elderly Women", "x": -0.127, "y": -0.014}, {"g": "Elderly Women", "x": -0.108, "y": -0.018}, {"g": "Elderly Women", "x": -0.098, "y": -0.052}, {"g": "Elderly Women", "x": -0.142, "y": -0.114}, {"g": "Elderly Women", "x": -0.0805, "y": -0.1}, {"g": "Elderly Women", "x": -0.047, "y": -0.119}, {"g": "Elderly Women", "x": 0.0094, "y": -0.128}, {"g": "Elderly Women", "x": 0.1295, "y": -0.06}, {"g": "Elderly Women", "x": 0.1886, "y": -0.0836}, {"g": "Elderly Women", "x": 0.227, "y": -0.125}, {"g": "Elderly Women", "x": 0.1764, "y": -0.185},
    {"g": "Elderly Men", "x": -0.0995, "y": 0.278}, {"g": "Elderly Men", "x": -0.139, "y": 0.308}, {"g": "Elderly Men", "x": -0.123, "y": 0.234}, {"g": "Elderly Men", "x": -0.1195, "y": 0.198}, {"g": "Elderly Men", "x": -0.133, "y": 0.11}, {"g": "Elderly Men", "x": -0.115, "y": 0.062}, {"g": "Elderly Men", "x": -0.112, "y": 0.044}, {"g": "Elderly Men", "x": -0.111, "y": 0.031}, {"g": "Elderly Men", "x": -0.064, "y": 0.013}, {"g": "Elderly Men", "x": -0.0335, "y": -0.079}, {"g": "Elderly Men", "x": 0.24, "y": 0.184}, {"g": "Elderly Men", "x": 0.2225, "y": 0.074},
    {"g": "Young Men", "x": -0.137, "y": 0.245}, {"g": "Young Men", "x": -0.107, "y": 0.099}, {"g": "Young Men", "x": -0.101, "y": 0.098}, {"g": "Young Men", "x": -0.132, "y": 0.064}, {"g": "Young Men", "x": -0.091, "y": 0.002}, {"g": "Young Men", "x": -0.022, "y": 0.053}, {"g": "Young Men", "x": 0.007, "y": 0.06}, {"g": "Young Men", "x": 0.042, "y": 0.048}, {"g": "Young Men", "x": 0.067, "y": 0.078}, {"g": "Young Men", "x": 0.031, "y": 0.001}, {"g": "Young Men", "x": -0.074, "y": -0.124}, {"g": "Young Men", "x": 0.235, "y": 0.164}, {"g": "Young Men", "x": 0.305, "y": 0.164}, {"g": "Young Men", "x": 0.3, "y": 0.078}, {"g": "Young Men", "x": 0.247, "y": -0.003}
   ]},
   "mark": {"type": "circle", "size": 52, "opacity": 1},
   "encoding": {
    "x": {"field": "x", "type": "quantitative", "scale": {"domain": [-0.4, 0.4], "nice": false, "zero": false},
     "axis": {"orient": "top", "values": [-0.4, -0.38, -0.36, -0.34, -0.32, -0.3, -0.28, -0.26, -0.24, -0.22, -0.2, -0.18, -0.16, -0.14, -0.12, -0.1, -0.08, -0.06, -0.04, -0.02, 0, 0.02, 0.04, 0.06, 0.08, 0.1, 0.12, 0.14, 0.16, 0.18, 0.2, 0.22, 0.24, 0.26, 0.28, 0.3, 0.32, 0.34, 0.36, 0.38, 0.4], "labels": false, "domain": false, "tickSize": 6, "offset": -3, "tickColor": "#444", "title": null}},
    "y": {"field": "y", "type": "quantitative", "scale": {"domain": [-0.4, 0.4], "nice": false, "zero": false},
     "axis": {"orient": "right", "values": [-0.4, -0.375, -0.35, -0.325, -0.3, -0.275, -0.25, -0.225, -0.2, -0.175, -0.15, -0.125, -0.1, -0.075, -0.05, -0.025, 0, 0.025, 0.05, 0.075, 0.1, 0.125, 0.15, 0.175, 0.2, 0.225, 0.25, 0.275, 0.3, 0.325, 0.35, 0.375, 0.4], "labels": false, "domain": false, "tickSize": 6, "offset": -3, "tickColor": "#444", "title": null}},
    "color": {"field": "g", "type": "nominal", "scale": {"domain": ["Young Men", "Elderly Men", "Young Women", "Elderly Women"], "range": ["#1b87d3", "#7b2f8e", "#e8672a", "#94b33b"]}, "legend": null}
   }
  },
  {
   "data": {"values": [{"g": "Young Men", "a": -0.4098, "b": -0.2341}, {"g": "Elderly Men", "a": -0.2309, "b": -0.0931}, {"g": "Young Women", "a": -0.0891, "b": 0.0741}, {"g": "Elderly Women", "a": 0.0774, "b": 0.3236}]},
   "layer": [
    {
     "mark": {"type": "rect"},
     "encoding": {
      "x": {"field": "a", "type": "quantitative", "scale": {"domain": [-0.4, 0.4], "nice": false, "zero": false}, "axis": null},
      "x2": {"field": "b"},
      "y": {"datum": -0.672, "type": "quantitative", "scale": {"domain": [-0.4, 0.4], "nice": false, "zero": false}, "axis": null},
      "y2": {"datum": -0.735},
      "fill": {"field": "g", "type": "nominal", "scale": {"domain": ["Young Men", "Elderly Men", "Young Women", "Elderly Women"], "range": ["#3f93d5", "#9a4dad", "#ea7a4b", "#9cb44b"]}, "legend": null}
     }
    },
    {
     "mark": {"type": "text", "align": "left", "baseline": "middle", "dx": 3, "font": "Liberation Sans", "fontSize": 7, "color": "#222"},
     "encoding": {
      "x": {"field": "a", "type": "quantitative", "scale": {"domain": [-0.4, 0.4], "nice": false, "zero": false}, "axis": null},
      "y": {"datum": -0.703, "type": "quantitative", "scale": {"domain": [-0.4, 0.4], "nice": false, "zero": false}, "axis": null},
      "text": {"field": "g"}
     }
    }
   ]
  },
  {
   "data": {"values": [{"t": "Men young", "x": -0.325}, {"t": "Men aged", "x": -0.163}, {"t": "Women young", "x": -0.0114}, {"t": "Women aged", "x": 0.194}]},
   "mark": {"type": "text", "font": "Lato", "fontSize": 33, "color": "#1a1a1a", "align": "center", "baseline": "alphabetic"},
   "encoding": {
    "x": {"field": "x", "type": "quantitative", "scale": {"domain": [-0.4, 0.4], "nice": false, "zero": false}, "axis": null},
    "y": {"datum": -0.845, "type": "quantitative", "scale": {"domain": [-0.4, 0.4], "nice": false, "zero": false}, "axis": null},
    "text": {"field": "t"}
   }
  },
  {
   "data": {"values": [{"label": "Standardised Expression Profiles", "arrow": "\u25bc"}]},
   "layer": [
    {
     "mark": {"type": "rect", "fill": "#e4e4e8", "stroke": "#8c8c90", "strokeWidth": 1, "cornerRadius": 2},
     "encoding": {
      "x": {"datum": -0.114, "type": "quantitative", "scale": {"domain": [-0.4, 0.4], "nice": false, "zero": false}, "axis": null},
      "x2": {"datum": 0.0807},
      "y": {"datum": -0.604, "type": "quantitative", "scale": {"domain": [-0.4, 0.4], "nice": false, "zero": false}, "axis": null},
      "y2": {"datum": -0.656}
     }
    },
    {
     "mark": {"type": "text", "align": "left", "baseline": "middle", "font": "Liberation Sans", "fontSize": 12, "fontWeight": "bold", "color": "#1a1a1a"},
     "encoding": {
      "x": {"datum": -0.1107, "type": "quantitative", "scale": {"domain": [-0.4, 0.4], "nice": false, "zero": false}, "axis": null},
      "y": {"datum": -0.63, "type": "quantitative", "scale": {"domain": [-0.4, 0.4], "nice": false, "zero": false}, "axis": null},
      "text": {"field": "label"}
     }
    },
    {
     "mark": {"type": "text", "align": "center", "baseline": "middle", "font": "DejaVu Sans", "fontSize": 6, "color": "#222"},
     "encoding": {
      "x": {"datum": 0.0754, "type": "quantitative", "scale": {"domain": [-0.4, 0.4], "nice": false, "zero": false}, "axis": null},
      "y": {"datum": -0.632, "type": "quantitative", "scale": {"domain": [-0.4, 0.4], "nice": false, "zero": false}, "axis": null},
      "text": {"field": "arrow"}
     }
    }
   ]
  },
  {
   "data": {"values": [{"a": -0.065, "b": -0.057, "c": -0.061, "s": "<"}, {"a": 0.0571, "b": 0.0656, "c": 0.0614, "s": ">"}]},
   "layer": [
    {
     "mark": {"type": "rect", "fill": "#dcdfec", "stroke": "#a9adc4", "strokeWidth": 0.8},
     "encoding": {
      "x": {"field": "a", "type": "quantitative", "scale": {"domain": [-0.4, 0.4], "nice": false, "zero": false}, "axis": null},
      "x2": {"field": "b"},
      "y": {"datum": -0.497, "type": "quantitative", "scale": {"domain": [-0.4, 0.4], "nice": false, "zero": false}, "axis": null},
      "y2": {"datum": -0.531}
     }
    },
    {
     "mark": {"type": "text", "align": "center", "baseline": "middle", "font": "Liberation Sans", "fontSize": 9, "fontWeight": "bold", "color": "#334"},
     "encoding": {
      "x": {"field": "c", "type": "quantitative", "scale": {"domain": [-0.4, 0.4], "nice": false, "zero": false}, "axis": null},
      "y": {"datum": -0.514, "type": "quantitative", "scale": {"domain": [-0.4, 0.4], "nice": false, "zero": false}, "axis": null},
      "text": {"field": "s"}
     }
    }
   ]
  },
  {
   "data": {"values": [{"a": 0.2745, "b": 0.243, "c": 0.259, "s": ">"}, {"a": -0.232, "b": -0.264, "c": -0.248, "s": "<"}]},
   "layer": [
    {
     "mark": {"type": "rect", "fill": "#dcdfec", "stroke": "#a9adc4", "strokeWidth": 0.8},
     "encoding": {
      "x": {"datum": -0.4425, "type": "quantitative", "scale": {"domain": [-0.4, 0.4], "nice": false, "zero": false}, "axis": null},
      "x2": {"datum": -0.4353},
      "y": {"field": "a", "type": "quantitative", "scale": {"domain": [-0.4, 0.4], "nice": false, "zero": false}, "axis": null},
      "y2": {"field": "b"}
     }
    },
    {
     "mark": {"type": "text", "align": "center", "baseline": "middle", "angle": 270, "font": "Liberation Sans", "fontSize": 9, "fontWeight": "bold", "color": "#334"},
     "encoding": {
      "x": {"datum": -0.4389, "type": "quantitative", "scale": {"domain": [-0.4, 0.4], "nice": false, "zero": false}, "axis": null},
      "y": {"field": "c", "type": "quantitative", "scale": {"domain": [-0.4, 0.4], "nice": false, "zero": false}, "axis": null},
      "text": {"field": "s"}
     }
    }
   ]
  },
  {
   "data": {"values": [{"t": "30.16%"}]},
   "mark": {"type": "text", "align": "center", "baseline": "middle", "font": "Liberation Sans", "fontSize": 7, "fontWeight": "bold", "color": "#333"},
   "encoding": {
    "x": {"datum": 0.0794, "type": "quantitative", "scale": {"domain": [-0.4, 0.4], "nice": false, "zero": false}, "axis": null},
    "y": {"datum": -0.512, "type": "quantitative", "scale": {"domain": [-0.4, 0.4], "nice": false, "zero": false}, "axis": null},
    "text": {"field": "t"}
   }
  },
  {
   "data": {"values": [{"t": "8.37%"}]},
   "mark": {"type": "text", "align": "center", "baseline": "middle", "angle": 270, "font": "Liberation Sans", "fontSize": 7, "fontWeight": "bold", "color": "#333"},
   "encoding": {
    "x": {"datum": -0.4389, "type": "quantitative", "scale": {"domain": [-0.4, 0.4], "nice": false, "zero": false}, "axis": null},
    "y": {"datum": 0.3216, "type": "quantitative", "scale": {"domain": [-0.4, 0.4], "nice": false, "zero": false}, "axis": null},
    "text": {"field": "t"}
   }
  }
 ]
}
